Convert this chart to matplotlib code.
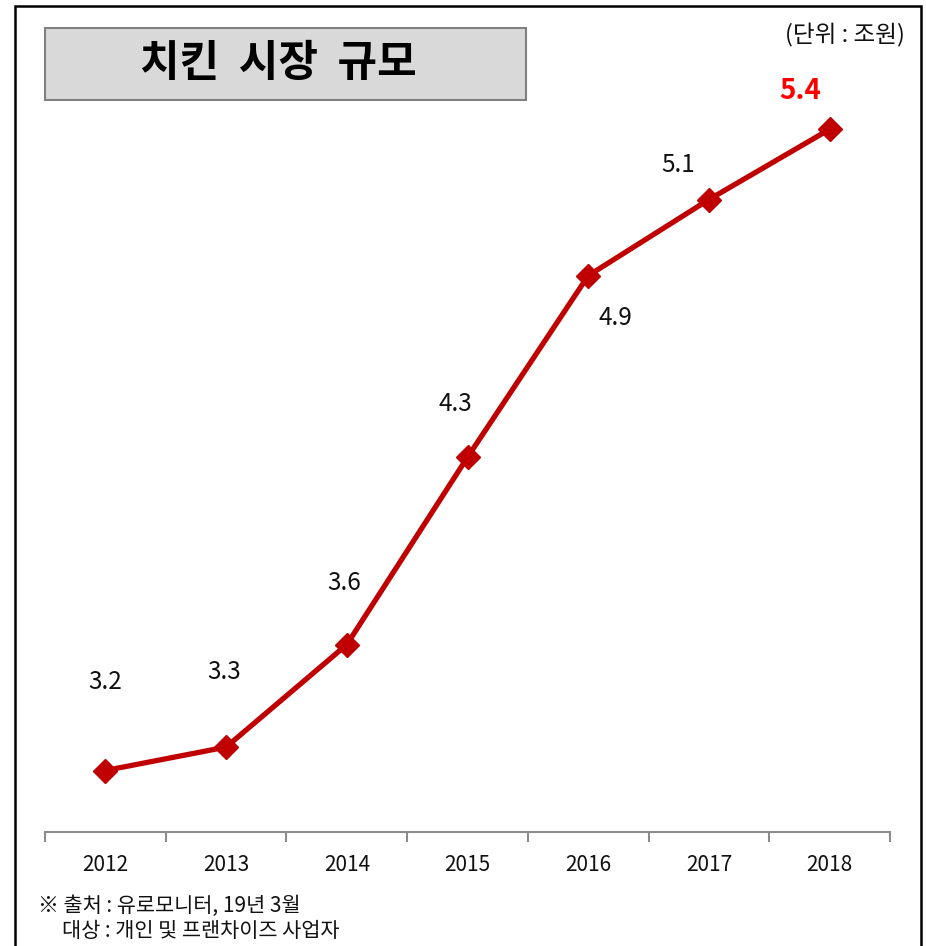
import matplotlib.pyplot as plt
from matplotlib.patches import Rectangle

plt.rcParams['font.family'] = ['Noto Sans CJK KR', 'DejaVu Sans']

years = ['2012', '2013', '2014', '2015', '2016', '2017', '2018']
market_size = [3.21, 3.29, 3.64, 4.28, 4.90, 5.16, 5.40]
labels = ['3.2', '3.3', '3.6', '4.3', '4.9', '5.1', '5.4']

W, H = 926, 946
fig = plt.figure(figsize=(W / 100, H / 100), dpi=100)


def fx(x):
    return x / W


def fy(y):
    return 1 - y / H


# plot area
ax = fig.add_axes([fx(45), fy(832), fx(890) - fx(45), fy(100) - fy(832)])
x = list(range(len(years)))
ax.plot(x, market_size, color='#C00000', lw=3.8, marker='D', ms=12,
        solid_capstyle='round', zorder=3)
ax.set_xlim(-0.5, len(years) - 0.5)
ax.set_ylim(3.0, 5.5)

# label offsets in pixels (dx, dy)
offsets = [(0, 89), (-2, 75), (-3, 62), (-12, 53), (27, -42), (-31, 35), (-29, 38)]
for i, (v, lab) in enumerate(zip(market_size, labels)):
    last = i == len(labels) - 1
    ax.annotate(lab, (i, v), xytext=offsets[i], textcoords='offset pixels',
                ha='center', va='center',
                fontsize=20 if last else 17.5,
                fontweight='bold' if last else 'normal',
                color='#FF0000' if last else '#111111')

for s in ['top', 'right', 'left']:
    ax.spines[s].set_visible(False)
ax.spines['bottom'].set_color('#8C8C8C')
ax.spines['bottom'].set_linewidth(1.5)
ax.set_yticks([])
ax.set_xticks([i - 0.5 for i in range(len(years) + 1)])
ax.set_xticklabels([])
ax.tick_params(axis='x', length=7, width=1.5, color='#8C8C8C')
for i, yr in enumerate(years):
    ax.text(i, -0.045, yr, transform=ax.get_xaxis_transform(),
            ha='center', va='center', fontsize=15, color='#111111')

# outer frame
fig.patches.append(Rectangle((fx(15), fy(960)), fx(921) - fx(15), fy(6) - fy(960),
                             transform=fig.transFigure, fill=False,
                             edgecolor='black', lw=1.8))

# title box
fig.patches.append(Rectangle((fx(45), fy(100)), fx(526) - fx(45), fy(28) - fy(100),
                             transform=fig.transFigure, facecolor='#D9D9D9',
                             edgecolor='#7F7F7F', lw=1.5))
fig.text(fx(278), fy(63), '치킨  시장  규모', ha='center', va='center',
         fontsize=31, fontweight='bold', color='black')

fig.text(fx(905), fy(35), '(단위 : 조원)', ha='right', va='center',
         fontsize=17, color='#111111')

fig.text(fx(38), fy(906), '※ 출처 : 유로모니터, 19년 3월', ha='left', va='center',
         fontsize=15, color='#111111')
fig.text(fx(62), fy(931), '대상 : 개인 및 프랜차이즈 사업자', ha='left', va='center',
         fontsize=15, color='#111111')

fig.savefig('out.png', dpi=100)
